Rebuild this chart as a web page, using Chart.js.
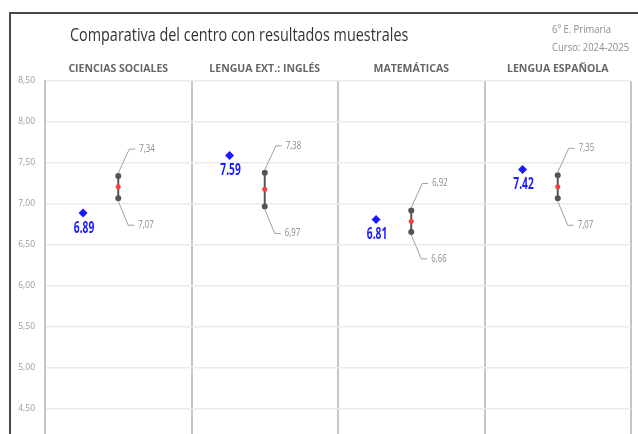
<!DOCTYPE html>
<html><head><meta charset="utf-8">
<script src="https://cdn.jsdelivr.net/npm/chart.js@4.4.1/dist/chart.umd.min.js"></script>
<style>
html,body{margin:0;padding:0;background:#fff;overflow:hidden;width:638px;height:434px;}
#wrap{position:relative;width:638px;height:470px;}
#frame{position:absolute;left:9px;top:12px;width:700px;height:500px;border-left:2px solid #4a4a4a;border-top:2px solid #4a4a4a;}
.cond{font-family:'Open Sans',sans-serif;}
#title{position:absolute;left:70px;top:22px;font-size:18px;color:#333;white-space:nowrap;transform:scaleX(0.8);transform-origin:0 0;}
#hdr{position:absolute;left:552px;top:20px;font-size:11px;line-height:18px;color:#8c8c8c;white-space:nowrap;transform:scaleX(0.86);transform-origin:0 0;}
canvas{position:absolute;left:0;top:0;}
</style></head>
<body>
<div id="wrap">
<canvas id="c" width="638" height="470"></canvas>
<div id="frame"></div>
<div id="title" class="cond">Comparativa del centro con resultados muestrales</div>
<div id="hdr" class="cond">6º E. Primaria<br>Curso: 2024-2025</div>
</div>
<script>
const subjects = ['CIENCIAS SOCIALES', 'LENGUA EXT.: INGLÉS', 'MATEMÁTICAS', 'LENGUA ESPAÑOLA'];
const centreValues = [6.89, 7.59, 6.81, 7.42];
const sampleHigh = [7.34, 7.38, 6.92, 7.35];
const sampleLow = [7.07, 6.97, 6.66, 7.07];
const sampleMid = [7.21, 7.18, 6.79, 7.21];
const yTicks = [4.5, 5.0, 5.5, 6.0, 6.5, 7.0, 7.5, 8.0, 8.5];

const FONT = "'Open Sans',sans-serif";
const comma = v => v.toFixed(2).replace('.', ',');

const datasets = [];
subjects.forEach((s, i) => {
  datasets.push({
    type: 'line', label: 'range' + i,
    data: [{x: i + 0.5, y: sampleLow[i]}, {x: i + 0.5, y: sampleHigh[i]}],
    borderColor: '#555', borderWidth: 2, pointRadius: 3,
    pointBackgroundColor: '#555', pointBorderWidth: 0, order: 2
  });
});
const midIdx = datasets.length;
datasets.push({
  type: 'scatter', label: 'mid',
  data: sampleMid.map((v, i) => ({x: i + 0.5, y: v})),
  pointRadius: 2.5, pointBackgroundColor: '#ff3b3b', pointBorderWidth: 0, order: 1
});
const centreIdx = datasets.length;
datasets.push({
  type: 'scatter', label: 'centre',
  data: centreValues.map((v, i) => ({x: i + 0.26, y: v})),
  pointStyle: 'rectRot', pointRadius: 4.5, pointBackgroundColor: '#1a1aff', pointBorderWidth: 0, order: 0
});

function narrowText(ctx, text, x, y, sx, align) {
  ctx.save();
  ctx.translate(x, y);
  ctx.scale(sx, 1);
  ctx.textAlign = align; ctx.textBaseline = 'middle';
  ctx.fillText(text, 0, 0);
  ctx.restore();
}

const labelPlugin = {
  id: 'labels',
  afterDatasetsDraw(chart) {
    const ctx = chart.ctx;
    ctx.save();
    chart.getDatasetMeta(centreIdx).data.forEach((pt, i) => {
      ctx.font = "bold 16px " + FONT;
      ctx.fillStyle = '#1a1aff';
      narrowText(ctx, centreValues[i].toFixed(2), pt.x + 1, pt.y + 15, 0.64, 'center');
    });
    subjects.forEach((s, i) => {
      const m = chart.getDatasetMeta(i).data;
      const lo = m[0], hi = m[1];
      ctx.strokeStyle = '#a0a0a0'; ctx.lineWidth = 1;
      ctx.beginPath();
      ctx.moveTo(hi.x, hi.y - 3); ctx.lineTo(hi.x + 11, hi.y - 27); ctx.lineTo(hi.x + 17, hi.y - 27);
      ctx.moveTo(lo.x, lo.y + 3); ctx.lineTo(lo.x + 10, lo.y + 27); ctx.lineTo(lo.x + 16, lo.y + 27);
      ctx.stroke();
      ctx.font = "10px " + FONT;
      ctx.fillStyle = '#8a8a8a';
      narrowText(ctx, comma(sampleHigh[i]), hi.x + 21, hi.y - 27, 0.78, 'left');
      narrowText(ctx, comma(sampleLow[i]), lo.x + 20, lo.y + 27, 0.78, 'left');
    });
    ctx.restore();
  }
};

new Chart(document.getElementById('c'), {
  data: {datasets},
  options: {
    responsive: false, animation: false,
    layout: {padding: {top: 50, right: 7, bottom: 20, left: 0}},
    plugins: {legend: {display: false}, tooltip: {enabled: false}},
    scales: {
      x: {
        type: 'linear', position: 'bottom', min: 0, max: 4,
        ticks: {display: false, stepSize: 1},
        grid: {color: '#c6c6c6', lineWidth: 2, drawTicks: false},
        border: {display: false},
        afterFit: s => { s.height = 0; }
      },
      xTop: {
        type: 'category', position: 'top', labels: subjects, offset: true,
        grid: {display: false, drawTicks: false}, border: {display: false},
        ticks: {color: '#666', padding: 6, font: {family: FONT, size: 10.5, weight: 'bold'}},
        afterFit: s => { s.height = 31; }
      },
      y: {
        type: 'linear', min: 4, max: 8.5,
        afterBuildTicks: s => { s.ticks = yTicks.map(v => ({value: v})); },
        ticks: {color: '#9a9a9a', padding: 10, font: {family: FONT, size: 8.5}, callback: v => comma(v)},
        grid: {color: '#ebebeb', lineWidth: 1.5, drawTicks: false},
        border: {color: '#c6c6c6', width: 2},
        afterFit: s => { s.width = 45; }
      }
    }
  },
  plugins: [labelPlugin]
});
</script>
</body></html>
